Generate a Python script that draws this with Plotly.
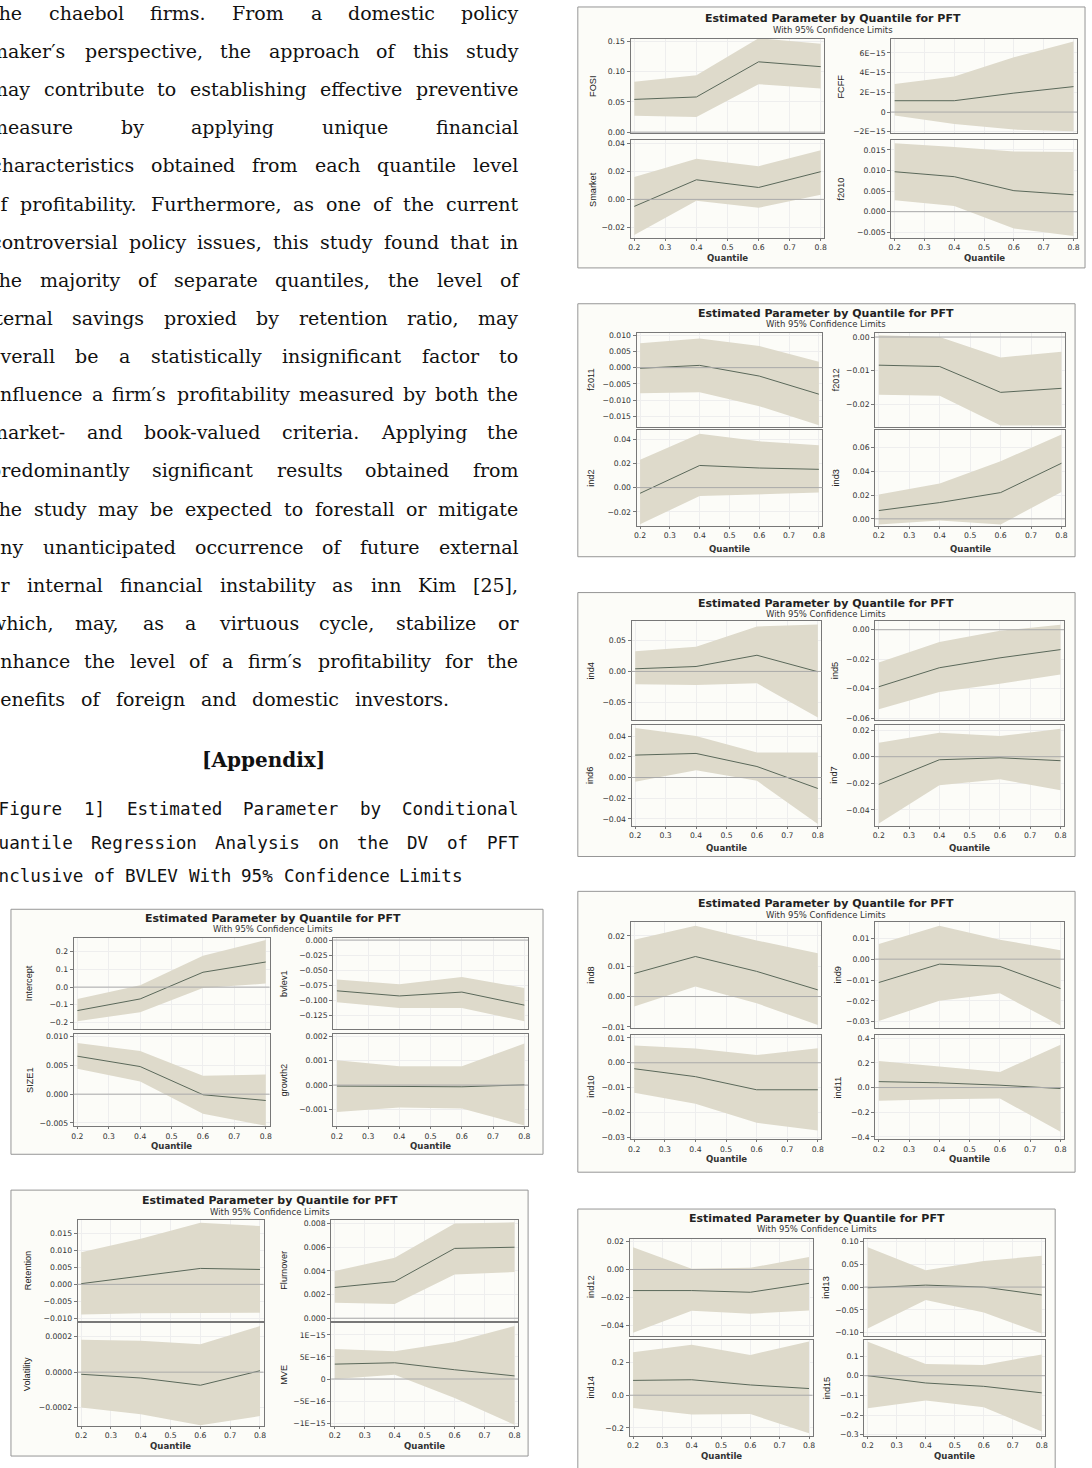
import plotly.graph_objects as go

W, H = 1092, 1468

# ------------------------------------------------------------------ data
Q = [0.2, 0.4, 0.6, 0.8]
X_TICKS = [0.2, 0.3, 0.4, 0.5, 0.6, 0.7, 0.8]
X_TICK_LABELS = ["0.2", "0.3", "0.4", "0.5", "0.6", "0.7", "0.8"]

# panel 1
FOSI_EST = [0.054, 0.058, 0.116, 0.108]
FOSI_LO = [0.027, 0.025, 0.079, 0.072]
FOSI_HI = [0.083, 0.094, 0.155, 0.146]
FOSI_TICKS = [0.0, 0.05, 0.10, 0.15]
FOSI_LABELS = ["0.00", "0.05", "0.10", "0.15"]

FCFF_EST = [1.15e-15, 1.15e-15, 1.92e-15, 2.58e-15]
FCFF_LO = [-0.36e-15, -1.22e-15, -1.78e-15, -1.95e-15]
FCFF_HI = [2.84e-15, 3.6e-15, 5.55e-15, 7.14e-15]
FCFF_TICKS = [-2e-15, 0, 2e-15, 4e-15, 6e-15]
FCFF_LABELS = ["−2E−15", "0", "2E−15", "4E−15", "6E−15"]

SMARKET_EST = [-0.005, 0.014, 0.0085, 0.0198]
SMARKET_LO = [-0.0254, -0.001, -0.006, 0.0033]
SMARKET_HI = [0.016, 0.029, 0.0237, 0.035]
SMARKET_TICKS = [-0.02, 0.0, 0.02, 0.04]
SMARKET_LABELS = ["−0.02", "0.00", "0.02", "0.04"]

F2010_EST = [0.0097, 0.0085, 0.0051, 0.0041]
F2010_LO = [0.0028, 0.0014, -0.0041, -0.0059]
F2010_HI = [0.0166, 0.0157, 0.0146, 0.0145]
F2010_TICKS = [-0.005, 0.0, 0.005, 0.010, 0.015]
F2010_LABELS = ["−0.005", "0.000", "0.005", "0.010", "0.015"]

# panel 2
F2011_EST = [-0.0002, 0.0007, -0.0026, -0.0082]
F2011_LO = [-0.0079, -0.0076, -0.0119, -0.0178]
F2011_HI = [0.0075, 0.009, 0.0067, 0.0018]
F2011_TICKS = [-0.015, -0.010, -0.005, 0.0, 0.005, 0.010]
F2011_LABELS = ["−0.015", "−0.010", "−0.005", "0.000", "0.005", "0.010"]

F2012_EST = [-0.0084, -0.0088, -0.0165, -0.0153]
F2012_LO = [-0.0172, -0.0175, -0.0264, -0.0264]
F2012_HI = [0.0005, 0.0, -0.0061, -0.0044]
F2012_TICKS = [-0.02, -0.01, 0.0]
F2012_LABELS = ["−0.02", "−0.01", "0.00"]

IND2_EST = [-0.0047, 0.0183, 0.0162, 0.0151]
IND2_LO = [-0.0303, -0.0069, -0.0058, -0.0041]
IND2_HI = [0.023, 0.0445, 0.0382, 0.035]
IND2_TICKS = [-0.02, 0.0, 0.02, 0.04]
IND2_LABELS = ["−0.02", "0.00", "0.02", "0.04"]

IND3_EST = [0.007, 0.0137, 0.0221, 0.0468]
IND3_LO = [-0.0048, -0.0014, -0.0048, 0.0227]
IND3_HI = [0.0205, 0.0297, 0.0485, 0.071]
IND3_TICKS = [0.0, 0.02, 0.04, 0.06]
IND3_LABELS = ["0.00", "0.02", "0.04", "0.06"]

# panel 3
IND4_EST = [0.0043, 0.008, 0.0263, -0.0005]
IND4_LO = [-0.021, -0.022, -0.0194, -0.0747]
IND4_HI = [0.0328, 0.0403, 0.0731, 0.0763]
IND4_TICKS = [-0.05, 0.0, 0.05]
IND4_LABELS = ["−0.05", "0.00", "0.05"]

IND5_EST = [-0.0387, -0.0258, -0.0191, -0.0135]
IND5_LO = [-0.054, -0.0423, -0.0367, -0.0304]
IND5_HI = [-0.0222, -0.0083, -0.0007, 0.0034]
IND5_TICKS = [-0.06, -0.04, -0.02, 0.0]
IND5_LABELS = ["−0.06", "−0.04", "−0.02", "0.00"]

IND6_EST = [0.0216, 0.0232, 0.0106, -0.0106]
IND6_LO = [-0.0042, 0.0071, -0.0032, -0.0448]
IND6_HI = [0.0477, 0.040, 0.0242, 0.0242]
IND6_TICKS = [-0.04, -0.02, 0.0, 0.02, 0.04]
IND6_LABELS = ["−0.04", "−0.02", "0.00", "0.02", "0.04"]

IND7_EST = [-0.0208, -0.0023, -0.0008, -0.003]
IND7_LO = [-0.0503, -0.0215, -0.017, -0.0253]
IND7_HI = [0.0105, 0.018, 0.0155, 0.021]
IND7_TICKS = [-0.04, -0.02, 0.0, 0.02]
IND7_LABELS = ["−0.04", "−0.02", "0.00", "0.02"]

# panel 4
IND8_EST = [0.0076, 0.0132, 0.0083, 0.0022]
IND8_LO = [-0.0033, 0.0033, -0.0022, -0.0094]
IND8_HI = [0.0187, 0.0233, 0.0185, 0.0143]
IND8_TICKS = [-0.01, 0.0, 0.01, 0.02]
IND8_LABELS = ["−0.01", "0.00", "0.01", "0.02"]

IND9_EST = [-0.0112, -0.0024, -0.0035, -0.0141]
IND9_LO = [-0.0296, -0.020, -0.0164, -0.0318]
IND9_HI = [0.0073, 0.016, 0.0093, 0.0043]
IND9_TICKS = [-0.03, -0.02, -0.01, 0.0, 0.01]
IND9_LABELS = ["−0.03", "−0.02", "−0.01", "0.00", "0.01"]

IND10_EST = [-0.0024, -0.0056, -0.0109, -0.0109]
IND10_LO = [-0.0121, -0.0165, -0.0242, -0.0273]
IND10_HI = [0.007, 0.0058, 0.0031, 0.0059]
IND10_TICKS = [-0.03, -0.02, -0.01, 0.0, 0.01]
IND10_LABELS = ["−0.03", "−0.02", "−0.01", "0.00", "0.01"]

IND11_EST = [0.048, 0.038, 0.019, -0.008]
IND11_LO = [-0.107, -0.094, -0.089, -0.357]
IND11_HI = [0.215, 0.169, 0.126, 0.346]
IND11_TICKS = [-0.4, -0.2, 0.0, 0.2, 0.4]
IND11_LABELS = ["−0.4", "−0.2", "0.0", "0.2", "0.4"]

# panel 5
IND12_EST = [-0.0151, -0.0151, -0.0163, -0.0099]
IND12_LO = [-0.0453, -0.0295, -0.0317, -0.0293]
IND12_HI = [0.016, 0.0005, 0.0012, 0.009]
IND12_TICKS = [-0.04, -0.02, 0.0, 0.02]
IND12_LABELS = ["−0.04", "−0.02", "0.00", "0.02"]

IND13_EST = [-0.0015, 0.0043, 0.0, -0.0174]
IND13_LO = [-0.0913, -0.0283, -0.0558, -0.1022]
IND13_HI = [0.0877, 0.037, 0.0572, 0.0688]
IND13_TICKS = [-0.10, -0.05, 0.0, 0.05, 0.10]
IND13_LABELS = ["−0.10", "−0.05", "0.00", "0.05", "0.10"]

IND14_EST = [0.091, 0.095, 0.063, 0.041]
IND14_LO = [-0.079, -0.118, -0.116, -0.234]
IND14_HI = [0.264, 0.31, 0.247, 0.33]
IND14_TICKS = [-0.2, 0.0, 0.2]
IND14_LABELS = ["−0.2", "0.0", "0.2"]

IND15_EST = [0.0, -0.037, -0.054, -0.087]
IND15_LO = [-0.165, -0.126, -0.16, -0.284]
IND15_HI = [0.173, 0.059, 0.055, 0.108]
IND15_TICKS = [-0.3, -0.2, -0.1, 0.0, 0.1]
IND15_LABELS = ["−0.3", "−0.2", "−0.1", "0.0", "0.1"]

# panel 6
INTERCEPT_EST = [-0.133, -0.067, 0.084, 0.142]
INTERCEPT_LO = [-0.193, -0.142, -0.005, 0.02]
INTERCEPT_HI = [-0.067, 0.011, 0.177, 0.267]
INTERCEPT_TICKS = [-0.2, -0.1, 0.0, 0.1, 0.2]
INTERCEPT_LABELS = ["−0.2", "−0.1", "0.0", "0.1", "0.2"]

BVLEV1_EST = [-0.0845, -0.093, -0.0866, -0.1083]
BVLEV1_LO = [-0.1037, -0.1132, -0.1132, -0.1353]
BVLEV1_HI = [-0.0655, -0.0735, -0.0614, -0.0797]
BVLEV1_TICKS = [-0.125, -0.100, -0.075, -0.050, -0.025, 0.0]
BVLEV1_LABELS = ["−0.125", "−0.100", "−0.075", "−0.050", "−0.025", "0.000"]

SIZE1_EST = [0.0066, 0.0048, -0.0001, -0.0011]
SIZE1_LO = [0.0044, 0.0022, -0.0034, -0.0055]
SIZE1_HI = [0.0089, 0.0075, 0.0032, 0.0034]
SIZE1_TICKS = [-0.005, 0.0, 0.005, 0.010]
SIZE1_LABELS = ["−0.005", "0.000", "0.005", "0.010"]

GROWTH2_EST = [-0.00004, -0.00007, -0.00007, 0.00001]
GROWTH2_LO = [-0.0011, -0.00092, -0.00096, -0.00165]
GROWTH2_HI = [0.00102, 0.00077, 0.00077, 0.0017]
GROWTH2_TICKS = [-0.001, 0.0, 0.001, 0.002]
GROWTH2_LABELS = ["−0.001", "0.000", "0.001", "0.002"]

# panel 7
RETENTION_EST = [0.0002, 0.0024, 0.0047, 0.0044]
RETENTION_LO = [-0.0089, -0.0085, -0.0085, -0.0084]
RETENTION_HI = [0.0095, 0.0135, 0.0182, 0.0172]
RETENTION_TICKS = [-0.010, -0.005, 0.0, 0.005, 0.010, 0.015]
RETENTION_LABELS = ["−0.010", "−0.005", "0.000", "0.005", "0.010", "0.015"]

TURNOVER_EST = [0.0026, 0.0031, 0.0059, 0.0060]
TURNOVER_LO = [0.0013, 0.0012, 0.0037, 0.0039]
TURNOVER_HI = [0.0040, 0.0051, 0.0080, 0.0081]
TURNOVER_TICKS = [0.0, 0.002, 0.004, 0.006, 0.008]
TURNOVER_LABELS = ["0.000", "0.002", "0.004", "0.006", "0.008"]

VOLATILITY_EST = [-0.000012, -0.000033, -0.000074, 0.000008]
VOLATILITY_LO = [-0.0002, -0.000238, -0.0003, -0.000248]
VOLATILITY_HI = [0.000183, 0.000178, 0.000158, 0.00026]
VOLATILITY_TICKS = [-0.0002, 0.0, 0.0002]
VOLATILITY_LABELS = ["−0.0002", "0.0000", "0.0002"]

MVE_EST = [3.37e-16, 3.68e-16, 2.1e-16, 0.7e-16]
MVE_LO = [0.0, 0.94e-16, -4.3e-16, -1.04e-15]
MVE_HI = [6.8e-16, 6.3e-16, 8.4e-16, 1.2e-15]
MVE_TICKS = [-1e-15, -5e-16, 0, 5e-16, 1e-15]
MVE_LABELS = ["−1E−15", "−5E−16", "0", "5E−16", "1E−15"]

SERIES = {
    "FOSI": (FOSI_EST, FOSI_LO, FOSI_HI, FOSI_TICKS, FOSI_LABELS),
    "FCFF": (FCFF_EST, FCFF_LO, FCFF_HI, FCFF_TICKS, FCFF_LABELS),
    "Smarket": (SMARKET_EST, SMARKET_LO, SMARKET_HI, SMARKET_TICKS, SMARKET_LABELS),
    "f2010": (F2010_EST, F2010_LO, F2010_HI, F2010_TICKS, F2010_LABELS),
    "f2011": (F2011_EST, F2011_LO, F2011_HI, F2011_TICKS, F2011_LABELS),
    "f2012": (F2012_EST, F2012_LO, F2012_HI, F2012_TICKS, F2012_LABELS),
    "ind2": (IND2_EST, IND2_LO, IND2_HI, IND2_TICKS, IND2_LABELS),
    "ind3": (IND3_EST, IND3_LO, IND3_HI, IND3_TICKS, IND3_LABELS),
    "ind4": (IND4_EST, IND4_LO, IND4_HI, IND4_TICKS, IND4_LABELS),
    "ind5": (IND5_EST, IND5_LO, IND5_HI, IND5_TICKS, IND5_LABELS),
    "ind6": (IND6_EST, IND6_LO, IND6_HI, IND6_TICKS, IND6_LABELS),
    "ind7": (IND7_EST, IND7_LO, IND7_HI, IND7_TICKS, IND7_LABELS),
    "ind8": (IND8_EST, IND8_LO, IND8_HI, IND8_TICKS, IND8_LABELS),
    "ind9": (IND9_EST, IND9_LO, IND9_HI, IND9_TICKS, IND9_LABELS),
    "ind10": (IND10_EST, IND10_LO, IND10_HI, IND10_TICKS, IND10_LABELS),
    "ind11": (IND11_EST, IND11_LO, IND11_HI, IND11_TICKS, IND11_LABELS),
    "ind12": (IND12_EST, IND12_LO, IND12_HI, IND12_TICKS, IND12_LABELS),
    "ind13": (IND13_EST, IND13_LO, IND13_HI, IND13_TICKS, IND13_LABELS),
    "ind14": (IND14_EST, IND14_LO, IND14_HI, IND14_TICKS, IND14_LABELS),
    "ind15": (IND15_EST, IND15_LO, IND15_HI, IND15_TICKS, IND15_LABELS),
    "Intercept": (INTERCEPT_EST, INTERCEPT_LO, INTERCEPT_HI, INTERCEPT_TICKS, INTERCEPT_LABELS),
    "bvlev1": (BVLEV1_EST, BVLEV1_LO, BVLEV1_HI, BVLEV1_TICKS, BVLEV1_LABELS),
    "SIZE1": (SIZE1_EST, SIZE1_LO, SIZE1_HI, SIZE1_TICKS, SIZE1_LABELS),
    "growth2": (GROWTH2_EST, GROWTH2_LO, GROWTH2_HI, GROWTH2_TICKS, GROWTH2_LABELS),
    "Retention": (RETENTION_EST, RETENTION_LO, RETENTION_HI, RETENTION_TICKS, RETENTION_LABELS),
    "Flurnover": (TURNOVER_EST, TURNOVER_LO, TURNOVER_HI, TURNOVER_TICKS, TURNOVER_LABELS),
    "Volatility": (VOLATILITY_EST, VOLATILITY_LO, VOLATILITY_HI, VOLATILITY_TICKS, VOLATILITY_LABELS),
    "MVE": (MVE_EST, MVE_LO, MVE_HI, MVE_TICKS, MVE_LABELS),
}

PANEL_TITLE = "Estimated Parameter by Quantile for PFT"
PANEL_SUBTITLE = "With 95% Confidence Limits"
X_TITLE = "Quantile"

BODY_LINES = [
    "the chaebol firms.  From a domestic policy",
    "maker′s perspective, the approach of this study",
    "may contribute to establishing effective preventive",
    "measure by applying unique financial",
    "characteristics obtained from each quantile level",
    "of profitability. Furthermore, as one of the current",
    "controversial policy issues, this study found that in",
    "the majority of separate quantiles, the level of",
    "internal savings proxied by retention ratio, may",
    "overall be a statistically insignificant factor to",
    "influence a firm′s profitability measured by both the",
    "market- and book-valued criteria. Applying the",
    "predominantly significant results obtained from",
    "the study may be expected to forestall or mitigate",
    "any unanticipated occurrence of future external",
    "or internal financial instability as inn Kim [25],",
    "which, may, as a virtuous cycle, stabilize or",
    "enhance the level of a firm′s profitability for the",
    "benefits of foreign and domestic investors.",
]
APPENDIX_HEADING = "[Appendix]"
CAPTION_LINES = [
    "[Figure 1] Estimated Parameter by Conditional",
    "Quantile Regression Analysis on the DV of PFT",
    "Inclusive of BVLEV With 95% Confidence Limits",
]

# ------------------------------------------------------------------ layout / style
BAND = "rgb(222,218,203)"
LINE = "rgb(90,104,90)"
ZERO = "rgb(170,170,170)"
AXIS = "rgb(120,120,120)"
GRID = "rgb(238,238,238)"
PANEL_BG = "rgb(252,252,248)"
PANEL_EDGE = "rgb(150,150,150)"
TICKFONT = dict(family="DejaVu Sans", size=7.7, color="#333333")

X_RANGE = [0.188, 0.812]

Y_RANGE = {
    "FOSI": (-0.0022, 0.1539), "FCFF": (-2.17e-15, 7.42e-15),
    "Smarket": (-0.0276, 0.0421), "f2010": (-0.0064, 0.0173),
    "f2011": (-0.0184, 0.0108), "f2012": (-0.0269, 0.0013),
    "ind2": (-0.0316, 0.0474), "ind3": (-0.0059, 0.0746),
    "ind4": (-0.079, 0.0812), "ind5": (-0.0613, 0.0056),
    "ind6": (-0.0464, 0.0506), "ind7": (-0.0518, 0.0238),
    "ind8": (-0.0103, 0.0245), "ind9": (-0.0329, 0.0177),
    "ind10": (-0.0309, 0.0113), "ind11": (-0.419, 0.427),
    "ind12": (-0.0473, 0.0219), "ind13": (-0.1065, 0.1058),
    "ind14": (-0.251, 0.342), "ind15": (-0.307, 0.184),
    "Intercept": (-0.236, 0.277), "bvlev1": (-0.1477, 0.0032),
    "SIZE1": (-0.0056, 0.0105), "growth2": (-0.00169, 0.0021),
    "Retention": (-0.0107, 0.019), "Flurnover": (-0.0002, 0.0083),
    "Volatility": (-0.000305, 0.00028), "MVE": (-1.07e-15, 1.28e-15),
}

# pixel geometry of each SAS panel
PANELS = [
    dict(vars=["FOSI", "FCFF", "Smarket", "f2010"], box=(578, 5, 1088, 267), tx=835, ty=17, sy=28.5,
         xl=(631, 826), xr=(893, 1080), yt=(37, 132), yb=(139, 237), qy=257, lx=(593, 843)),
    dict(vars=["f2011", "f2012", "ind2", "ind3"], box=(578, 303, 1078, 557), tx=828, ty=313, sy=323.5,
         xl=(637, 824), xr=(877, 1068), yt=(332, 427), yb=(430, 526), qy=549, lx=(591, 838)),
    dict(vars=["ind4", "ind5", "ind6", "ind7"], box=(578, 593, 1078, 858), tx=828, ty=604, sy=614.5,
         xl=(632, 823), xr=(877, 1067), yt=(622, 721), yb=(726, 827), qy=849, lx=(591, 836)),
    dict(vars=["ind8", "ind9", "ind10", "ind11"], box=(578, 893, 1078, 1175), tx=828, ty=905, sy=916.5,
         xl=(631, 823), xr=(877, 1067), yt=(924, 1030), yb=(1037, 1142), qy=1162, lx=(591, 840)),
    dict(vars=["ind12", "ind13", "ind14", "ind15"], box=(578, 1212, 1058, 1480), tx=818, ty=1221, sy=1232.5,
         xl=(630, 814), xr=(866, 1048), yt=(1242, 1339), yb=(1343, 1440), qy=1460, lx=(591, 828)),
    dict(vars=["Intercept", "bvlev1", "SIZE1", "growth2"], box=(8, 911, 543, 1157), tx=271, ty=920, sy=930.5,
         xl=(71, 268), xr=(332, 528), yt=(940, 1031), yb=(1036, 1129), qy=1149, lx=(27, 283)),
    dict(vars=["Retention", "Flurnover", "Volatility", "MVE"], box=(8, 1193, 528, 1460), tx=268, ty=1203, sy=1215,
         xl=(75, 262), xr=(330, 518), yt=(1223, 1324), yb=(1326, 1430), qy=1450, lx=(25, 283)),
]

# body-text line geometry: (left start of first word, right end of line, y centre)
BODY_X0 = [-12, -13, -13, -13, -12, -14, -12, -12, -26, -14, -9, -13, -14, -12, -14, -14, -13, -14, -15]
BODY_X1 = [518] * 18 + [448]
BODY_Y0, BODY_DY = 11, 38.28


def px(x):
    return x / W


def py(y):
    return 1 - y / H


fig = go.Figure()
layout = {}
shapes = []
annotations = []

n = 0
for p in PANELS:
    bx0, by0, bx1, by1 = p["box"]
    shapes.append(dict(type="rect", xref="paper", yref="paper", x0=px(bx0), x1=px(bx1),
                       y0=py(by1), y1=py(by0), line=dict(color=PANEL_EDGE, width=1),
                       fillcolor=PANEL_BG, layer="below"))
    annotations.append(dict(x=px(p["tx"]), y=py(p["ty"]), xref="paper", yref="paper", text=f"<b>{PANEL_TITLE}</b>",
                            showarrow=False, font=dict(family="DejaVu Sans", size=11, color="#222"),
                            xanchor="center", yanchor="middle", borderpad=0, borderwidth=0))
    annotations.append(dict(x=px(p["tx"]), y=py(p["sy"]), xref="paper", yref="paper", text=PANEL_SUBTITLE,
                            showarrow=False, font=dict(family="DejaVu Sans", size=8.5, color="#333"),
                            xanchor="center", yanchor="middle", borderpad=0, borderwidth=0))
    for k, var in enumerate(p["vars"]):
        n += 1
        col, row = k % 2, k // 2
        xs = p["xl"] if col == 0 else p["xr"]
        ys = p["yt"] if row == 0 else p["yb"]
        est, lo, hi, tv, tt = SERIES[var]
        xa = "x" if n == 1 else f"x{n}"
        ya = "y" if n == 1 else f"y{n}"
        fig.add_trace(go.Scatter(x=Q + Q[::-1], y=hi + lo[::-1], fill="toself", fillcolor=BAND,
                                 mode="lines", line=dict(width=0, color=BAND), hoverinfo="skip",
                                 showlegend=False, xaxis=xa, yaxis=ya))
        fig.add_trace(go.Scatter(x=Q, y=est, mode="lines", line=dict(color=LINE, width=1),
                                 showlegend=False, xaxis=xa, yaxis=ya, name=var))
        bottom = row == 1
        layout["xaxis" if n == 1 else f"xaxis{n}"] = dict(
            domain=[px(xs[0]), px(xs[1])], range=X_RANGE, anchor=ya,
            tickvals=X_TICKS, ticktext=X_TICK_LABELS, showticklabels=bottom,
            ticks="outside" if bottom else "", ticklen=2, tickcolor=AXIS, tickfont=TICKFONT,
            showline=True, mirror=True, linecolor=AXIS, linewidth=1,
            showgrid=True, gridcolor=GRID, gridwidth=1, zeroline=False, fixedrange=True)
        layout["yaxis" if n == 1 else f"yaxis{n}"] = dict(
            domain=[py(ys[1]), py(ys[0])], range=list(Y_RANGE[var]), anchor=xa,
            tickvals=tv, ticktext=tt, ticks="outside", ticklen=3, tickcolor=AXIS, tickfont=TICKFONT,
            showline=True, mirror=True, linecolor=AXIS, linewidth=1,
            showgrid=True, gridcolor=GRID, gridwidth=1, zeroline=False, fixedrange=True)
        shapes.append(dict(type="line", xref=f"{xa} domain", yref=ya, x0=0, x1=1, y0=0, y1=0,
                           line=dict(color=ZERO, width=1), layer="above"))
        annotations.append(dict(x=px(p["lx"][col]), y=py((ys[0] + ys[1]) / 2), xref="paper", yref="paper",
                                text=var, textangle=-90, showarrow=False,
                                font=dict(family="Liberation Sans", size=9.2, color="#222"),
                                xanchor="center", yanchor="middle", borderpad=0, borderwidth=0))
        if bottom:
            annotations.append(dict(x=px((xs[0] + xs[1]) / 2), y=py(p["qy"]), xref="paper", yref="paper",
                                    text=f"<b>{X_TITLE}</b>", showarrow=False,
                                    font=dict(family="DejaVu Sans", size=8.6, color="#333"),
                                    xanchor="center", yanchor="middle", borderpad=0, borderwidth=0))

# ---------------- body text (justified, word by word)
SERIF_W = dict(a=.596, b=.640, c=.560, d=.640, e=.592, f=.370, g=.640, h=.644, i=.320, j=.310,
               k=.610, l=.320, m=.948, n=.644, o=.602, p=.640, q=.640, r=.478, s=.513, t=.402,
               u=.644, v=.565, w=.856, x=.564, y=.565, z=.527)


def serif_width(word, fs):
    tot = 0
    for ch in word:
        if ch in SERIF_W:
            tot += SERIF_W[ch]
        elif ch.isupper():
            tot += .72
        elif ch.isdigit():
            tot += .636
        elif ch in ",.":
            tot += .318
        elif ch in "-′'":
            tot += .34
        elif ch in "[]":
            tot += .39
        else:
            tot += .5
    return tot * fs


BODY_FS = 19
for i, line in enumerate(BODY_LINES):
    words = line.split()
    widths = [serif_width(w_, BODY_FS) for w_ in words]
    x0, x1 = BODY_X0[i], BODY_X1[i]
    gap = (x1 - x0 - sum(widths)) / (len(words) - 1)
    yc = BODY_Y0 + i * BODY_DY
    xpos = x0
    for w_, wd in zip(words, widths):
        annotations.append(dict(x=px(xpos), y=py(yc), xref="paper", yref="paper", text=w_,
                                showarrow=False, xanchor="left", yanchor="middle",
                                borderpad=0, borderwidth=0,
                                font=dict(family="DejaVu Serif", size=BODY_FS, color="#111")))
        xpos += wd + gap

annotations.append(dict(x=px(262), y=py(761), xref="paper", yref="paper", text=f"<b>{APPENDIX_HEADING}</b>",
                        showarrow=False, xanchor="center", yanchor="middle", borderpad=0, borderwidth=0,
                        font=dict(family="DejaVu Serif", size=20, color="#111")))

# caption (monospace, first two lines justified)
CAP_FS = 17.6
CAP_CW = 0.602 * CAP_FS
CAP_Y = [810, 844, 878]
CAP_X0 = -CAP_CW - 4
CAP_X1 = [518, 518, None]
for i, line in enumerate(CAPTION_LINES):
    words = line.split()
    widths = [len(w_) * CAP_CW for w_ in words]
    if CAP_X1[i] is None:
        gap = CAP_CW
    else:
        gap = (CAP_X1[i] - CAP_X0 - sum(widths)) / (len(words) - 1)
    xpos = CAP_X0
    for w_, wd in zip(words, widths):
        annotations.append(dict(x=px(xpos), y=py(CAP_Y[i]), xref="paper", yref="paper", text=w_,
                                showarrow=False, xanchor="left", yanchor="middle",
                                borderpad=0, borderwidth=0,
                                font=dict(family="DejaVu Sans Mono", size=CAP_FS, color="#111")))
        xpos += wd + gap

fig.update_layout(
    width=W, height=H, margin=dict(l=0, r=0, t=0, b=0),
    paper_bgcolor="white", plot_bgcolor="white",
    showlegend=False, shapes=shapes, annotations=annotations,
    **layout,
)

fig.write_html("out.html", config={"displayModeBar": False},
               post_script="document.body.style.margin='0';")
